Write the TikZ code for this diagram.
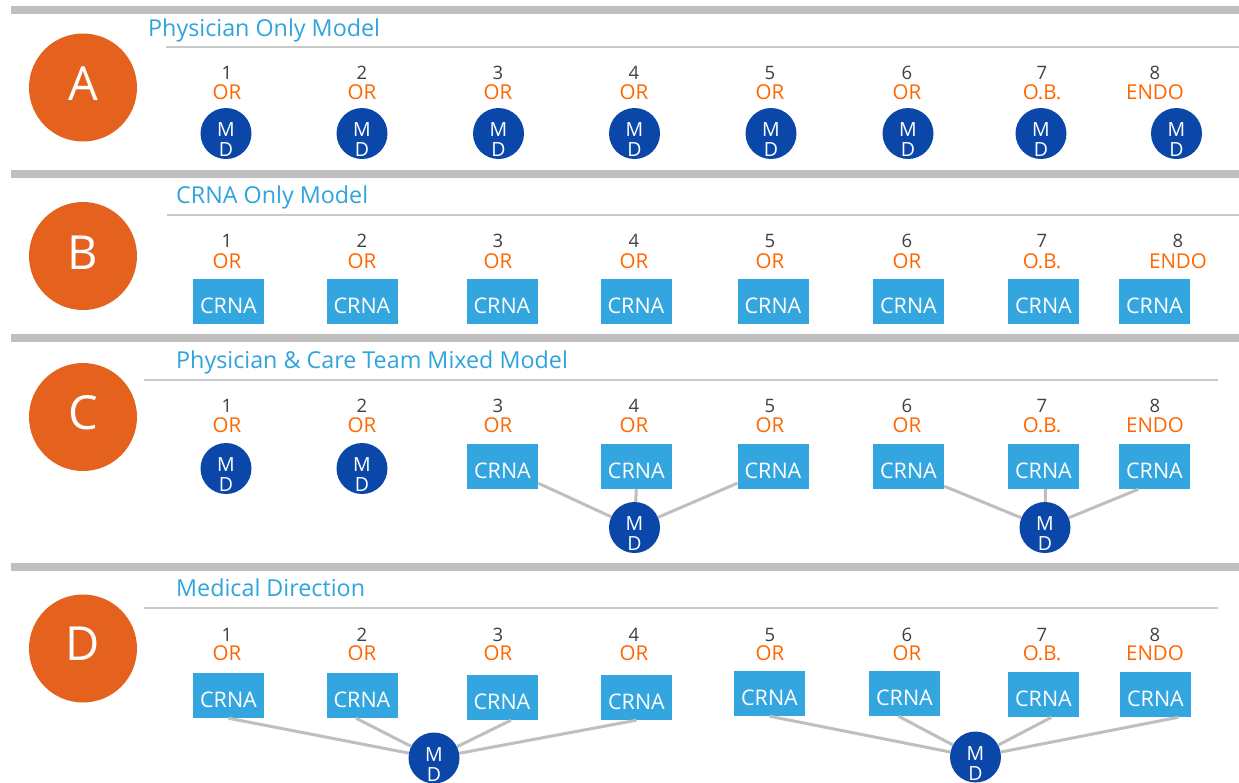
\documentclass[tikz,border=0pt]{standalone}
\usepackage{fontspec}
\setmainfont{Open Sans}
\usetikzlibrary{calc}
\definecolor{barGray}{HTML}{BFBFBF}
\definecolor{thinGray}{HTML}{C9C9C9}
\definecolor{connGray}{HTML}{BFBFBF}
\definecolor{bigOrange}{HTML}{E4611E}
\definecolor{orText}{HTML}{FF6600}
\definecolor{titleBlue}{HTML}{2FA3DE}
\definecolor{boxBlue}{HTML}{33A6E0}
\definecolor{mdBlue}{HTML}{0B47A9}
\definecolor{numGray}{HTML}{404040}
\tikzset{
  bar/.style={draw=barGray, line width=7.5},
  thin/.style={draw=thinGray, line width=2},
  conn/.style={draw=connGray, line width=3},
  bigc/.style={circle, fill=bigOrange, minimum size=108, inner sep=0},
  bigletter/.style={anchor=base, inner sep=0, text=white, font=\fontsize{47}{50}\selectfont},
  titlet/.style={anchor=base west, inner sep=0, text=titleBlue, font=\fontsize{23.3}{26}\selectfont},
  numt/.style={anchor=base, inner sep=0, text=numGray, font=\fontsize{18.5}{20}\selectfont},
  labt/.style={anchor=base, inner sep=0, text=orText, font=\fontsize{20.5}{22}\selectfont},
  mdtext/.style={text=white, inner sep=0, align=center, yshift=-6.5, font=\fontsize{19.5}{20}\selectfont},
  md/.style={circle, fill=mdBlue, minimum size=51, inner sep=0, label={[mdtext]center:M\\D}},
  crnatext/.style={text=white, inner sep=0, yshift=-4.5, font=\fontsize{21.5}{24}\selectfont},
  crna/.style={fill=boxBlue, minimum width=71, minimum height=45, inner sep=0, label={[crnatext]center:CRNA}}
}
\begin{document}
\begin{tikzpicture}[x=1pt, y=-1pt]
\useasboundingbox (0,0) rectangle (1239,782);
% section bars
\coordinate (b1s) at (11,9.75);  \coordinate (b1e) at (1239,9.75);
\coordinate (b2s) at (11,174);   \coordinate (b2e) at (1239,174);
\coordinate (b3s) at (11,338);   \coordinate (b3e) at (1239,338);
\coordinate (b4s) at (11,567);   \coordinate (b4e) at (1239,567);
\draw[bar] (b1s) -- (b1e);
\draw[bar] (b2s) -- (b2e);
\draw[bar] (b3s) -- (b3e);
\draw[bar] (b4s) -- (b4e);
% thin title rules
\coordinate (t1s) at (166,47);  \coordinate (t1e) at (1239,47);
\coordinate (t2s) at (167,215); \coordinate (t2e) at (1239,215);
\coordinate (t3s) at (144,380); \coordinate (t3e) at (1218,380);
\coordinate (t4s) at (144,608); \coordinate (t4e) at (1218,608);
\draw[thin] (t1s) -- (t1e);
\draw[thin] (t2s) -- (t2e);
\draw[thin] (t3s) -- (t3e);
\draw[thin] (t4s) -- (t4e);
% titles
\node[titlet] (ta) at (148,36) {Physician Only Model};
\node[titlet] (tb) at (176,203) {CRNA Only Model};
\node[titlet] (tc) at (176,368) {Physician \& Care Team Mixed Model};
\node[titlet] (td) at (176,596) {Medical Direction};
% big circles
\node[bigc] (ca) at (83,87.5) {};
\node[bigc] (cb) at (83,256) {};
\node[bigc] (cc) at (83,417) {};
\node[bigc] (cd) at (83,648.5) {};
\node[bigletter] (la) at (83,100) {A};
\node[bigletter] (lb) at (83,269) {B};
\node[bigletter] (lc) at (83,429.5) {C};
\node[bigletter] (ld) at (83,660.5) {D};
% ---------- Row A
\foreach \i/\x/\lab in {1/227/OR,2/362/OR,3/498/OR,4/634/OR,5/770/OR,6/907/OR,7/1042/O.B.,8/1155/ENDO} {
  \node[numt] (an\i) at (\x,79.3) {\i};
  \node[labt] (al\i) at (\x,99.3) {\lab};
}
\foreach \i/\x in {1/226,2/362,3/498.5,4/634.5,5/771,6/908,7/1041,8/1176.5} {
  \node[md] (am\i) at (\x,133.5) {};
}
% ---------- Row B
\foreach \i/\x/\lab in {1/227/OR,2/362/OR,3/498/OR,4/634/OR,5/770/OR,6/907/OR,7/1042/O.B.,8/1178/ENDO} {
  \node[numt] (bn\i) at (\x,247.5) {\i};
  \node[labt] (bl\i) at (\x,268) {\lab};
}
\foreach \i/\x in {1/228.5,2/362,3/502,4/636,5/773,6/908.5,7/1043.5,8/1154.5} {
  \node[crna] (bc\i) at (\x,301.5) {};
}
% ---------- Row C
\foreach \i/\x/\lab in {1/227/OR,2/362/OR,3/498/OR,4/634/OR,5/770/OR,6/907/OR,7/1042/O.B.,8/1155/ENDO} {
  \node[numt] (cn\i) at (\x,412.5) {\i};
  \node[labt] (cl\i) at (\x,432) {\lab};
}
\node[md] (cm1) at (226,468.5) {};
\node[md] (cm2) at (362,468.5) {};
\foreach \i/\x in {3/502.5,4/636.3,5/773,6/908.5,7/1043.5,8/1154.5} {
  \node[crna] (cc\i) at (\x,466.5) {};
}
\node[md] (cmx) at (634.5,527.5) {};
\node[md] (cmy) at (1045,527.5) {};
\draw[conn] ($(cc3.south east)+(0,-6)$) -- (cmx);
\draw[conn] (cc4.south) -- (cmx);
\draw[conn] ($(cc5.south west)+(0,-6)$) -- (cmx);
\draw[conn] ($(cc6.south east)+(0,-3)$) -- (cmy);
\draw[conn] ($(cc7.south)+(2,0)$) -- (cmy);
\draw[conn] ($(cc8.south)+(-16,0)$) -- (cmy);
% ---------- Row D
\foreach \i/\x/\lab in {1/227/OR,2/362/OR,3/498/OR,4/634/OR,5/770/OR,6/907/OR,7/1042/O.B.,8/1155/ENDO} {
  \node[numt] (dn\i) at (\x,641) {\i};
  \node[labt] (dl\i) at (\x,660.5) {\lab};
}
\foreach \i/\x/\y in {1/228.5/695.5,2/362/695.5,3/502/697.5,4/636.5/697.5,5/769.5/693.5,6/904.5/693.5,7/1043.5/694.5,8/1155.5/694.5} {
  \node[crna] (dc\i) at (\x,\y) {};
}
\node[md] (dmx) at (434,758) {};
\node[md] (dmy) at (975.5,757) {};
\draw[conn] (dc1.south) -- (dmx);
\draw[conn] ($(dc2.south)+(-6,0)$) -- (dmx);
\draw[conn] ($(dc3.south)+(9,0)$) -- (dmx);
\draw[conn] (dc4.south) -- (dmx);
\draw[conn] (dc5.south) -- (dmy);
\draw[conn] ($(dc6.south)+(-6,0)$) -- (dmy);
\draw[conn] ($(dc7.south)+(8,0)$) -- (dmy);
\draw[conn] ($(dc8.south)+(23,0)$) -- (dmy);
\end{tikzpicture}
\end{document}
